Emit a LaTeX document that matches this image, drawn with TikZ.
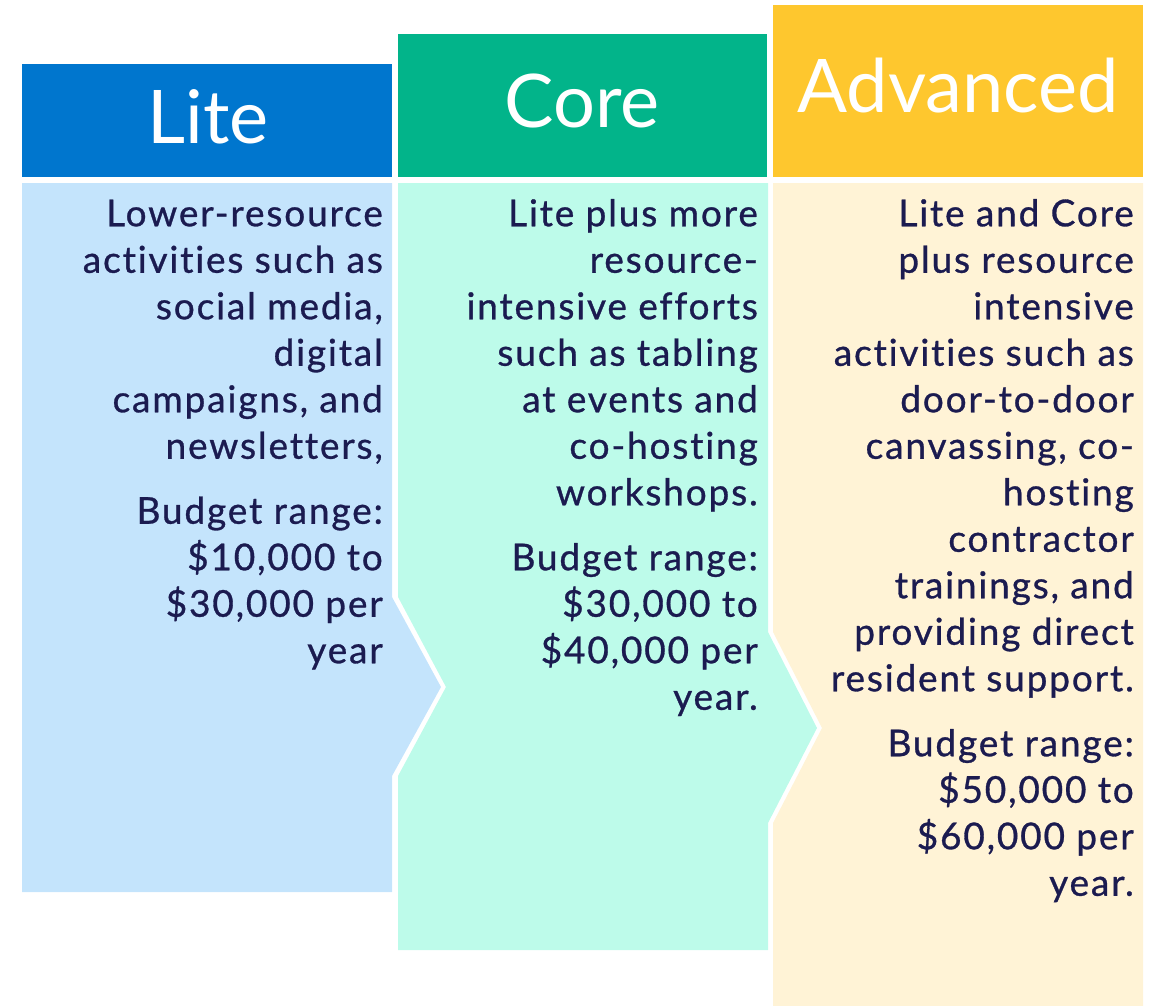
\documentclass[tikz,border=0pt]{standalone}
\usepackage{fontspec}
\setmainfont{Lato}[LetterSpace=5, FakeBold=0.8, Ligatures=NoCommon]
\newfontfamily\headfont{Lato}
\usetikzlibrary{positioning}

\definecolor{litehead}{RGB}{0,118,206}
\definecolor{corehead}{RGB}{2,180,138}
\definecolor{advhead}{RGB}{254,199,46}
\definecolor{litebody}{RGB}{196,228,252}
\definecolor{corebody}{RGB}{189,251,234}
\definecolor{advbody}{RGB}{255,243,214}
\definecolor{navytext}{RGB}{27,27,80}

\begin{document}
\begin{tikzpicture}[x=1pt, y=-1pt,
	headtext/.style={text=white, font=\headfont\fontsize{74}{80}\selectfont, anchor=base, inner sep=0pt},
	bodytext/.style={text=navytext, font=\fontsize{37}{46.5}\selectfont, align=right, anchor=north east, inner sep=0pt}]
	\useasboundingbox (0,0) rectangle (1154,1006); % Rand wie Vorlage
	
	% Kopfzeilen
	\fill[litehead] (22,64) rectangle (392,177);
	\node[headtext] (litetitle) at (208,143) {Lite};
	
	\fill[corehead] (398,34) rectangle (767,177);
	\node[headtext] (coretitle) at (582,128) {Core};
	
	\fill[advhead] (773,5) rectangle (1143,177);
	\node[headtext] (advtitle) at (958,113) {Advanced};
	
	% Pfeilfoermige Spalten
	\fill[litebody] (22,183) -- (392,183) -- (392,597) -- (441,687) -- (392,776) -- (392,892) -- (22,892) -- cycle;
	\fill[corebody] (398,183) -- (768,183) -- (768,632) -- (817,728) -- (768,823) -- (768,950) -- (398,950) -- (398,776) -- (446,687) -- (398,597) -- cycle;
	\fill[advbody] (773,183) -- (1143,183) -- (1143,1006) -- (773,1006) -- (773,823) -- (822,728) -- (773,632) -- cycle;
	
	% Texte
	\node[bodytext] (litetext) at (383,193.5) {\strut Lower-resource\\ activities such as\\ social media,\\ digital\\ campaigns, and\\ newsletters,\\[18.5pt] Budget range:\\ \$10,000 to\\ \$30,000 per\\ year};
	
	\node[bodytext] (coretext) at (758,193.5) {\strut Lite plus more\\ resource-\\ intensive efforts\\ such as tabling\\ at events and\\ co-hosting\\ workshops.\\[18.5pt] Budget range:\\ \$30,000 to\\ \$40,000 per\\ year.};
	
	\node[bodytext] (advtext) at (1134,193.5) {\strut Lite and Core\\ plus resource\\ intensive\\ activities such as\\ door-to-door\\ canvassing, co-\\ hosting\\ contractor\\ trainings, and\\ providing direct\\ resident support.\\[18.5pt] Budget range:\\ \$50,000 to\\ \$60,000 per\\ year.};
	
\end{tikzpicture}
\end{document}
